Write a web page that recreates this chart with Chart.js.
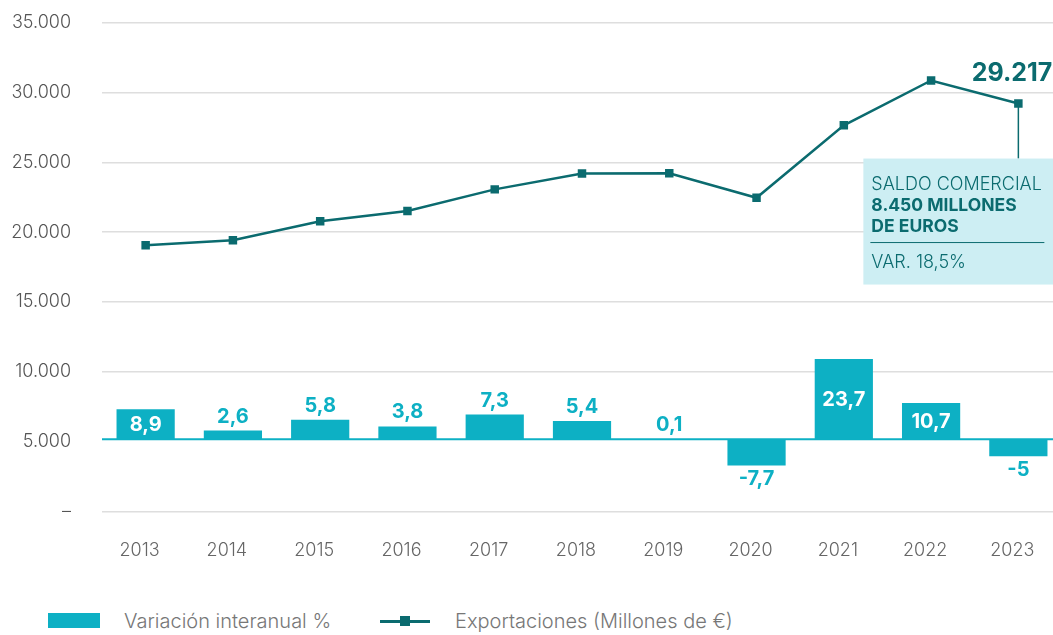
<!DOCTYPE html>
<html>
<head>
<meta charset="utf-8">
<script src="https://cdn.jsdelivr.net/npm/chart.js@4"></script>
<style>
  html, body { margin: 0; padding: 0; background: #fff; overflow: hidden; }
  body { width: 1053px; height: 635px; position: relative; font-family: Inter, "Noto Sans", sans-serif; }
  #wrap { position: absolute; left: 0; top: -19px; width: 1068px; height: 609px; }
  .legend { position: absolute; top: 607px; height: 28px; font-size: 20px; font-weight: 300; color: #777; line-height: 28px; }
  .swatch-bar { position: absolute; left: 48px; top: 613px; width: 52px; height: 15px; background: #0db0c4; }
  .swatch-line { position: absolute; left: 380px; top: 620px; width: 50px; height: 3px; background: #0b6b6f; }
  .swatch-pt { position: absolute; left: 400px; top: 616px; width: 10px; height: 10px; background: #0b6b6f; }
</style>
</head>
<body>
<div id="wrap"><canvas id="chart" width="1068" height="609"></canvas></div>
<div class="swatch-bar"></div>
<div class="legend" style="left:124px">Variación interanual %</div>
<div class="swatch-line"></div>
<div class="swatch-pt"></div>
<div class="legend" style="left:455px">Exportaciones (Millones de €)</div>

<script>
// Data
const years = ['2013', '2014', '2015', '2016', '2017', '2018', '2019', '2020', '2021', '2022', '2023'];
const exportsM = [19070, 19430, 20780, 21520, 23070, 24210, 24230, 22470, 27660, 30870, 29217];
const variation = [8.9, 2.6, 5.8, 3.8, 7.3, 5.4, 0.1, -7.7, 23.7, 10.7, -5];
const yTicks = [0, 5000, 10000, 15000, 20000, 25000, 30000, 35000];

const TEAL = '#0b6b6f';
const CYAN = '#0db0c4';
const FONT = 'Inter, "Noto Sans", sans-serif';

function fmtThousands(v) {
    if (v === 0) return '–';
    return String(v).replace(/\B(?=(\d{3})+(?!\d))/g, '.');
}

function fmtPct(v) {
    return String(v).replace('.', ',');
}

// zero line of the % bars
const baselinePlugin = {
    id: 'baseline',
    beforeDatasetsDraw(chart) {
        const ctx = chart.ctx;
        const area = chart.chartArea;
        const y = chart.scales.y2.getPixelForValue(0);
        ctx.save();
        ctx.strokeStyle = CYAN;
        ctx.lineWidth = 2;
        ctx.beginPath();
        ctx.moveTo(area.left, y);
        ctx.lineTo(area.right, y);
        ctx.stroke();
        ctx.restore();
    }
};

// value labels on bars + last point annotation
const labelsPlugin = {
    id: 'labels',
    afterDatasetsDraw(chart) {
        const ctx = chart.ctx;
        ctx.save();
        ctx.textAlign = 'center';
        ctx.textBaseline = 'middle';
        ctx.font = 'bold 20px ' + FONT;

        const bars = chart.getDatasetMeta(0).data;
        bars.forEach(function(bar, i) {
            const v = variation[i];
            let y;
            if (v >= 8) {
                ctx.fillStyle = '#fff';
                y = (bar.y + bar.base) / 2 + 1;
            } else if (v >= 0) {
                ctx.fillStyle = CYAN;
                y = bar.y - 14;
            } else {
                ctx.fillStyle = CYAN;
                y = bar.y + 14;
            }
            ctx.fillText(fmtPct(v), bar.x, y);
        });

        // annotation for the last export value
        const pts = chart.getDatasetMeta(1).data;
        const last = pts[pts.length - 1];
        const boxLeft = last.x - 155;
        const boxTop = last.y + 55;
        const boxW = 191;
        const boxH = 126;

        ctx.strokeStyle = TEAL;
        ctx.lineWidth = 1.5;
        ctx.beginPath();
        ctx.moveTo(last.x, last.y);
        ctx.lineTo(last.x, boxTop);
        ctx.stroke();

        ctx.fillStyle = TEAL;
        ctx.textAlign = 'right';
        ctx.font = 'bold 25px ' + FONT;
        ctx.fillText(fmtThousands(exportsM[exportsM.length - 1]), last.x + 34, last.y - 30);

        ctx.fillStyle = '#cdeef3';
        ctx.fillRect(boxLeft, boxTop, boxW, boxH);

        ctx.fillStyle = TEAL;
        ctx.textAlign = 'left';
        ctx.font = '300 18px ' + FONT;
        ctx.fillText('SALDO COMERCIAL', boxLeft + 8, boxTop + 26);
        ctx.font = 'bold 17.5px ' + FONT;
        ctx.fillText('8.450 MILLONES', boxLeft + 8, boxTop + 47);
        ctx.fillText('DE EUROS', boxLeft + 8, boxTop + 68);
        ctx.lineWidth = 1;
        ctx.beginPath();
        ctx.moveTo(boxLeft + 7, boxTop + 84);
        ctx.lineTo(boxLeft + 181, boxTop + 84);
        ctx.stroke();
        ctx.font = '300 18px ' + FONT;
        ctx.fillText('VAR. 18,5%', boxLeft + 8, boxTop + 104);

        ctx.restore();
    }
};

const ctx = document.getElementById('chart').getContext('2d');
new Chart(ctx, {
    type: 'bar',
    data: {
        labels: years,
        datasets: [
            {
                type: 'bar',
                label: 'Variación interanual %',
                data: variation,
                yAxisID: 'y2',
                backgroundColor: CYAN,
                borderWidth: 0,
                barPercentage: 0.667,
                categoryPercentage: 1,
                order: 2
            },
            {
                type: 'line',
                label: 'Exportaciones (Millones de €)',
                data: exportsM,
                yAxisID: 'y',
                borderColor: TEAL,
                backgroundColor: TEAL,
                borderWidth: 2.5,
                pointStyle: 'rect',
                pointRadius: 6,
                pointBorderWidth: 0,
                tension: 0,
                fill: false,
                order: 1
            }
        ]
    },
    options: {
        responsive: false,
        animation: false,
        layout: { padding: { top: 2, right: 0, left: 0, bottom: 0 } },
        plugins: {
            legend: { display: false },
            tooltip: { enabled: false }
        },
        scales: {
            x: {
                grid: { display: false },
                border: { display: false },
                ticks: {
                    color: '#666',
                    padding: 20,
                    labelOffset: -6,
                    font: { family: FONT, size: 18, weight: 300 }
                },
                afterFit: function(scale) { scale.height = 78.5; }
            },
            y: {
                position: 'left',
                min: 0,
                max: 35000,
                afterBuildTicks: function(scale) {
                    scale.ticks = yTicks.map(function(v) { return { value: v }; });
                },
                grid: {
                    drawTicks: false,
                    lineWidth: 1.5,
                    color: function(c) {
                        return c.tick && c.tick.value === 5000 ? 'rgba(0,0,0,0)' : '#dedede';
                    }
                },
                border: { display: false },
                ticks: {
                    color: '#555',
                    padding: 31,
                    font: { family: FONT, size: 18, weight: 300 },
                    callback: function(v) { return fmtThousands(v); }
                },
                afterFit: function(scale) { scale.width = 102; }
            },
            y2: {
                display: false,
                min: -21.3,
                max: 122.9
            }
        }
    },
    plugins: [baselinePlugin, labelsPlugin]
});
</script>
</body>
</html>
